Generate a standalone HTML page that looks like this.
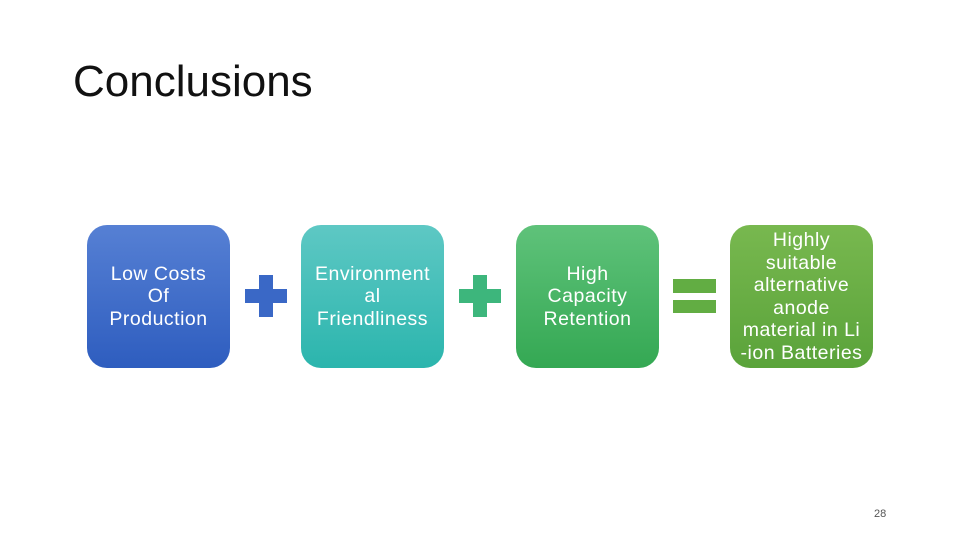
<!DOCTYPE html>
<html><head><style>
body{margin:0;width:960px;height:540px;background:#fff;position:relative;font-family:"Liberation Sans",sans-serif;overflow:hidden}
.t{position:absolute;left:73px;top:57px;font-size:44px;color:#111}
.b{position:absolute;top:225px;width:143px;height:143px;border-radius:20px;display:flex;align-items:center;justify-content:center;text-align:center;color:#fff;font-size:19.5px;letter-spacing:0.5px;line-height:22.5px;white-space:nowrap}
.p{position:absolute}
.p div{position:absolute}
.n{position:absolute;left:874px;top:508px;font-size:11px;color:#555}
</style></head><body>
<div class="t">Conclusions</div>
<div class="b" style="left:87px;background:linear-gradient(#5680d4,#2e5dbf)">Low Costs<br>Of<br>Production</div>
<div class="b" style="left:301px;background:linear-gradient(#5ec8c4,#2bb5ad)">Environment<br>al<br>Friendliness</div>
<div class="b" style="left:516px;background:linear-gradient(#5fc27a,#34a853)">High<br>Capacity<br>Retention</div>
<div class="b" style="left:730px;background:linear-gradient(#78b84f,#5aa33a)">Highly<br>suitable<br>alternative<br>anode<br>material in Li<br>-ion Batteries</div>
<div class="p" style="left:245px;top:275px;width:42px;height:42px">
<div style="left:14px;top:0;width:14px;height:42px;background:#3a68c6"></div>
<div style="left:0;top:14px;width:42px;height:14px;background:#3a68c6"></div></div>
<div class="p" style="left:459px;top:275px;width:42px;height:42px">
<div style="left:14px;top:0;width:14px;height:42px;background:#3db67c"></div>
<div style="left:0;top:14px;width:42px;height:14px;background:#3db67c"></div></div>
<div class="p" style="left:673px;top:279px;width:43px;height:34px">
<div style="left:0;top:0;width:43px;height:14px;background:#62ad43"></div>
<div style="left:0;top:21px;width:43px;height:13px;background:#62ad43"></div></div>
<div class="n">28</div>
</body></html>
